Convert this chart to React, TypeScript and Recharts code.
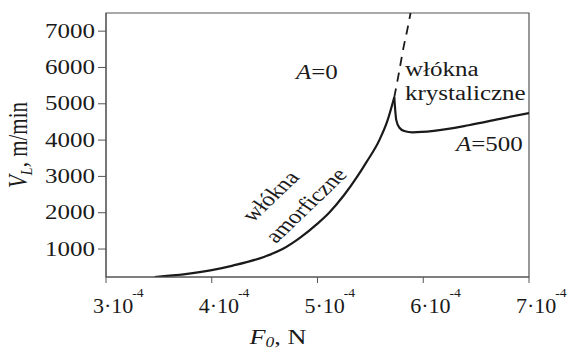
import { Line, LineChart, ReferenceArea, XAxis, YAxis } from "recharts";

// Take-up velocity V_L against initial tension F_0. The A=500 curve rises along the
// amorphous branch up to a cusp, then drops onto the crystalline branch; the A=0
// curve (dashed) carries on steeply from the cusp.

const WIDTH = 570;
const HEIGHT = 352;
const FONT = "'Liberation Serif', 'Times New Roman', serif";
// glyphs are set a little wider than the plain serif face
const SX = 1.25;
const SX_TICK = 1.05;

const X_TICKS = [3e-4, 4e-4, 5e-4, 6e-4, 7e-4];
const Y_TICKS = [1000, 2000, 3000, 4000, 5000, 6000, 7000];
const X_DOMAIN = [3e-4, 7e-4];
const Y_DOMAIN = [230, 7500];

// A=500, amorphous fibres (below the cusp)
const AMORPHOUS_F = [3.46e-4, 3.75e-4, 4.0e-4, 4.2e-4, 4.5e-4, 4.67e-4, 4.83e-4, 5.0e-4, 5.11e-4, 5.25e-4, 5.377e-4, 5.46e-4, 5.585e-4, 5.66e-4, 5.726e-4];
const AMORPHOUS_V = [230, 310, 420, 545, 790, 1000, 1300, 1700, 2000, 2480, 3000, 3380, 4000, 4520, 5180];

// A=500, crystalline fibres (after the cusp)
const CRYSTAL_F = [5.726e-4, 5.745e-4, 5.775e-4, 5.82e-4, 5.9e-4, 6.1e-4, 6.43e-4, 6.75e-4, 7.0e-4];
const CRYSTAL_V = [5180, 4550, 4340, 4250, 4215, 4255, 4410, 4600, 4745];

// A=0
const NO_CRYSTAL_F = [5.726e-4, 5.77e-4, 5.81e-4, 5.85e-4, 5.88e-4];
const NO_CRYSTAL_V = [5180, 5850, 6500, 7050, 7500];

const zip = (fs: number[], vs: number[]) => fs.map((f, i) => ({ f, v: vs[i] }));

const amorphous = zip(AMORPHOUS_F, AMORPHOUS_V);
const crystalline = zip(CRYSTAL_F, CRYSTAL_V);
const noCrystal = zip(NO_CRYSTAL_F, NO_CRYSTAL_V);

const AXIS = "#555";
const INK = "#1a1a1a";

function YTick({ x, y, payload }: any) {
  return (
    <g transform={`translate(${x},${y}) scale(${SX},1)`}>
      <text x={0} y={0} textAnchor="end" dominantBaseline="central" fontSize={20} fontFamily={FONT} fill={INK}>
        {payload.value}
      </text>
    </g>
  );
}

function XTick({ x, payload }: any) {
  const mantissa = Math.round(payload.value * 1e4);
  return (
    <g transform={`translate(${x},313) scale(${SX_TICK},1)`}>
      <text x={-12.5} y={0} textAnchor="start" fontSize={21} fontFamily={FONT} fill={INK}>
        <tspan>{`${mantissa}·10`}</tspan>
        <tspan dy={-16} dx={-1} fontSize={13}>-4</tspan>
      </text>
    </g>
  );
}

function Stretched({ x, y, rotate = 0, children, anchor = "start", size = 20 }: any) {
  return (
    <g transform={`translate(${x},${y}) scale(${SX},1) rotate(${rotate})`}>
      <text x={0} y={0} textAnchor={anchor} fontSize={size} fontFamily={FONT} fill={INK}>
        {children}
      </text>
    </g>
  );
}

export default function App() {
  return (
    <div style={{ position: "relative", width: WIDTH, height: HEIGHT, background: "#fff" }}>
      <style>{`body{margin:0}`}</style>
      <LineChart
        width={WIDTH}
        height={HEIGHT}
        margin={{ top: 13, right: 41, bottom: 45, left: 46 }}
      >
        <XAxis
          type="number"
          dataKey="f"
          domain={X_DOMAIN}
          ticks={X_TICKS}
          allowDataOverflow
          height={30}
          tickSize={6}
          stroke={AXIS}
          tick={<XTick />}
        />
        <YAxis
          type="number"
          dataKey="v"
          domain={Y_DOMAIN}
          ticks={Y_TICKS}
          allowDataOverflow
          width={60}
          tickSize={8}
          tickMargin={3}
          stroke={AXIS}
          tick={<YTick />}
        />
        <ReferenceArea
          x1={X_DOMAIN[0]}
          x2={X_DOMAIN[1]}
          y1={Y_DOMAIN[0]}
          y2={Y_DOMAIN[1]}
          fill="none"
          stroke={AXIS}
          strokeWidth={1.2}
        />
        <Line
          data={amorphous}
          dataKey="v"
          type="monotone"
          stroke={INK}
          strokeWidth={2.2}
          dot={false}
          activeDot={false}
          isAnimationActive={false}
        />
        <Line
          data={crystalline}
          dataKey="v"
          type="monotone"
          stroke={INK}
          strokeWidth={2.2}
          dot={false}
          activeDot={false}
          isAnimationActive={false}
        />
        <Line
          data={noCrystal}
          dataKey="v"
          type="monotone"
          stroke={INK}
          strokeWidth={1.8}
          strokeDasharray="9 7"
          dot={false}
          activeDot={false}
          isAnimationActive={false}
        />
      </LineChart>

      <svg
        width={WIDTH}
        height={HEIGHT}
        style={{ position: "absolute", left: 0, top: 0, pointerEvents: "none" }}
      >
        {/* axis titles */}
        <Stretched x={27} y={145} rotate={-90} anchor="middle" size={21}>
          <tspan fontStyle="italic">V</tspan>
          <tspan fontStyle="italic" fontSize={14} dy={4}>L</tspan>
          <tspan dy={-4}>, m/min</tspan>
        </Stretched>
        <Stretched x={278} y={344} anchor="middle" size={21}>
          <tspan fontStyle="italic">F</tspan>
          <tspan fontStyle="italic" fontSize={14} dy={3}>0</tspan>
          <tspan dy={-3}>, N</tspan>
        </Stretched>

        {/* curve annotations */}
        <Stretched x={296} y={79} size={20}>
          <tspan fontStyle="italic">A</tspan>
          <tspan>=0</tspan>
        </Stretched>
        <Stretched x={405} y={76} size={20}>włókna</Stretched>
        <Stretched x={405} y={100} size={20}>krystaliczne</Stretched>
        <Stretched x={456} y={151} size={20}>
          <tspan fontStyle="italic">A</tspan>
          <tspan>=500</tspan>
        </Stretched>
        <Stretched x={253} y={223} rotate={-50} size={20}>włókna</Stretched>
        <Stretched x={276} y={244} rotate={-50} size={20}>amorficzne</Stretched>
      </svg>
    </div>
  );
}
